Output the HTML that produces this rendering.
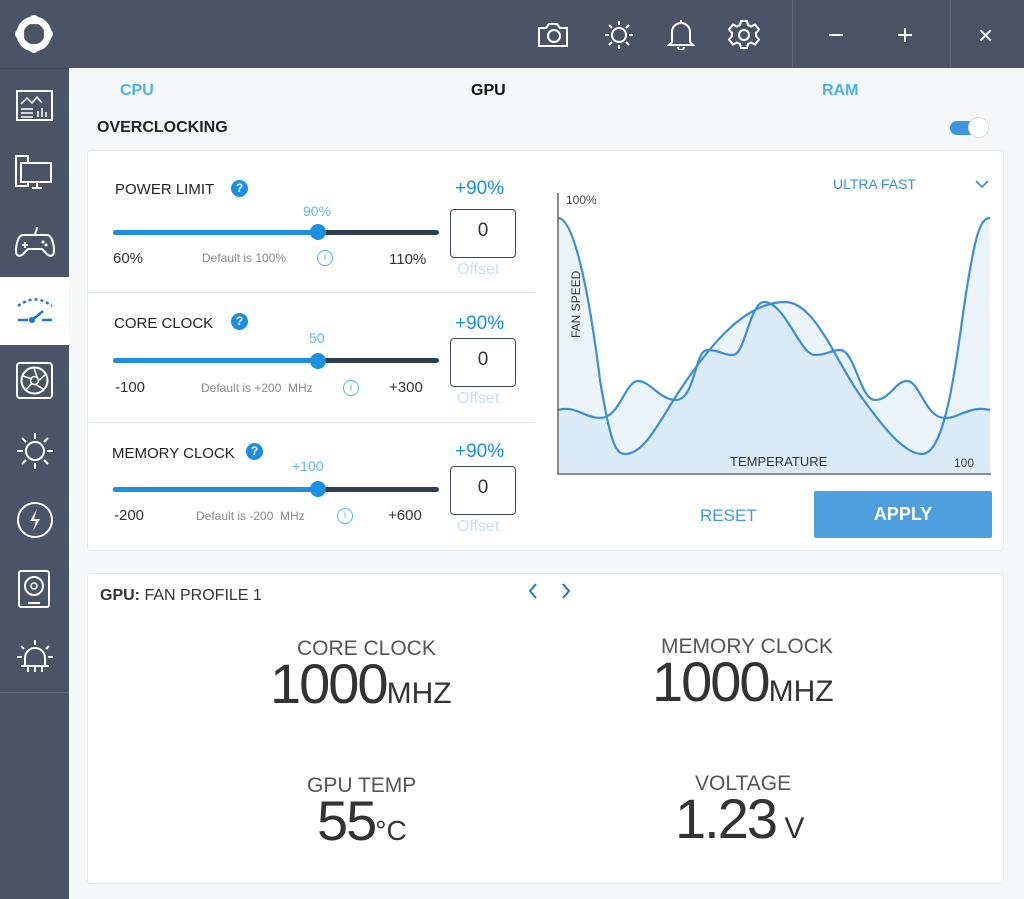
<!DOCTYPE html>
<html><head><meta charset="utf-8"><style>
*{margin:0;padding:0;box-sizing:border-box}
body{width:1024px;height:899px;overflow:hidden;font-family:"Liberation Sans",Arial,sans-serif;background:#f6f7f9;position:relative}
.a{position:absolute}
.side{left:0;top:0;width:69px;height:899px;background:#4a5466}
.top{left:69px;top:0;width:955px;height:68px;background:#4a5466}
.panel{background:#fff;border:1px solid #e6e8ec;border-radius:4px}
.t{position:absolute;white-space:nowrap}
.track{position:absolute;height:5px;border-radius:3px;background:#2f3c52}
.fill{position:absolute;height:5px;border-radius:3px;background:#1b8fe0}
.thumb{position:absolute;width:16px;height:16px;border-radius:50%;background:#1b8fe0}
.box{position:absolute;width:66px;height:49px;border:1.5px solid #3a4456;border-radius:4px;font-size:19px;color:#333;text-align:center;line-height:42px}
.q{position:absolute;width:17px;height:17px;border-radius:50%;background:#1b8fe0;color:#fff;font-size:12px;font-weight:bold;text-align:center;line-height:17px}
.lbl{font-size:15px;color:#222}
.big{font-size:56px;color:#333;letter-spacing:-2px}
</style></head><body>
<div class="a side"></div>
<div class="a top"></div>
<div class="a" style="left:792px;top:0;width:1px;height:68px;background:#5d6778"></div>
<div class="a" style="left:950px;top:0;width:1px;height:68px;background:#5d6778"></div>
<svg class="a" style="left:14px;top:14px" width="40" height="40" viewBox="0 0 40 40"><circle cx="20" cy="20" r="14" fill="none" stroke="#fff" stroke-width="7"/><circle cx="20" cy="6" r="5" fill="#fff"/><circle cx="20" cy="34" r="5" fill="#fff"/><circle cx="6" cy="20" r="5" fill="#fff"/><circle cx="34" cy="20" r="5" fill="#fff"/><circle cx="20" cy="20" r="10" fill="#4a5466"/></svg>
<div class="a" style="left:0;top:68px;width:69px;height:1px;background:#3e4858"></div>
<svg class="a" style="left:16px;top:88px" width="38" height="34"><rect x="1" y="3" width="35" height="29" fill="none" stroke="#fff" stroke-width="2"/><path d="M5 16 l6-6 5 5 5-6 5 6" fill="none" stroke="#fff" stroke-width="1.5"/><path d="M5 21h12M5 25h12M5 29h12M22 29v-6M26 29v-9M30 29v-5" stroke="#fff" stroke-width="1.5"/></svg>
<svg class="a" style="left:15px;top:155px" width="40" height="36"><rect x="1" y="1" width="12" height="30" fill="none" stroke="#fff" stroke-width="2"/><rect x="6" y="8" width="30" height="19" fill="#4a5466" stroke="#fff" stroke-width="2"/><path d="M17 33h10M22 27v5" stroke="#fff" stroke-width="2"/></svg>
<svg class="a" style="left:15px;top:227px" width="40" height="32"><path d="M8 8h24c5 0 7 10 7 16s-5 6-8 2l-4-4h-14l-4 4c-3 4-8 4-8-2s2-16 7-16z" fill="none" stroke="#fff" stroke-width="2"/><path d="M10 15v6M7 18h6M22 0c0 4-2 5-2 8" stroke="#fff" stroke-width="2"/><circle cx="28" cy="15" r="1.5" fill="#fff"/><circle cx="31" cy="18" r="1.5" fill="#fff"/></svg>
<div class="a" style="left:0;top:277px;width:69px;height:68px;background:#fff"></div>
<svg class="a" style="left:15px;top:295px" width="40" height="32"><path d="M3 11 Q20 -2 37 11" fill="none" stroke="#1b78c8" stroke-width="2.5" stroke-dasharray="3 3"/><path d="M3 25h10M27 25h10M16 26l12-10" stroke="#1b78c8" stroke-width="2.5"/><circle cx="17" cy="25" r="3" fill="#1b78c8"/></svg>
<svg class="a" style="left:16px;top:362px" width="38" height="38"><rect x="1" y="1" width="35" height="35" rx="3" fill="none" stroke="#fff" stroke-width="2"/><circle cx="18.5" cy="18.5" r="13" fill="none" stroke="#fff" stroke-width="2"/><circle cx="18.5" cy="18.5" r="4" fill="none" stroke="#fff" stroke-width="1.5"/><path d="M18 6l3 9M29 13l-7 6M27 27l-8-5M10 28l6-7M7 14l9 3" stroke="#fff" stroke-width="1.5"/></svg>
<svg class="a" style="left:15px;top:431px" width="40" height="40"><circle cx="20" cy="20" r="9" fill="none" stroke="#fff" stroke-width="2"/><g stroke="#fff" stroke-width="2"><path d="M20 2v6M20 32v6M2 20h6M32 20h6M7 7l4 4M29 29l4 4M33 7l-4 4M11 29l-4 4"/></g></svg>
<svg class="a" style="left:15px;top:500px" width="40" height="40"><circle cx="20" cy="20" r="17" fill="none" stroke="#fff" stroke-width="2"/><path d="M22 9l-7 12h6l-3 10 7-12h-6z" fill="#fff"/></svg>
<svg class="a" style="left:18px;top:570px" width="34" height="40"><rect x="1" y="1" width="30" height="36" rx="2" fill="none" stroke="#fff" stroke-width="2"/><circle cx="16" cy="16" r="9" fill="none" stroke="#fff" stroke-width="2"/><circle cx="16" cy="16" r="3" fill="none" stroke="#fff" stroke-width="1.5"/><path d="M10 33h12" stroke="#fff" stroke-width="2"/></svg>
<svg class="a" style="left:15px;top:638px" width="40" height="40"><path d="M10 28v-8a10 10 0 0 1 20 0v8z" fill="none" stroke="#fff" stroke-width="2"/><path d="M6 28h28M13 28v6M20 28v6M27 28v6M20 2v5M6 8l3 3M34 8l-3 3M2 19h5M33 19h5" stroke="#fff" stroke-width="2"/></svg>
<div class="a" style="left:0;top:692px;width:69px;height:1px;background:#5d6778"></div>
<svg class="a" style="left:537px;top:22px" width="32" height="26"><path d="M2 6h7l3-4h8l3 4h7v18h-28z" fill="none" stroke="#fff" stroke-width="2"/><circle cx="17" cy="14" r="6" fill="none" stroke="#fff" stroke-width="2"/></svg>
<svg class="a" style="left:604px;top:20px" width="30" height="30"><circle cx="15" cy="15" r="7" fill="none" stroke="#fff" stroke-width="2"/><g stroke="#fff" stroke-width="2"><path d="M15 1v4M15 25v4M1 15h4M25 15h4M5 5l3 3M22 22l3 3M25 5l-3 3M8 22l-3 3"/></g></svg>
<svg class="a" style="left:667px;top:18px" width="28" height="32"><path d="M5 24v-10a9 9 0 0 1 18 0v10l3 3h-24z" fill="none" stroke="#fff" stroke-width="2"/><path d="M11 29a3 3 0 0 0 6 0" fill="none" stroke="#fff" stroke-width="2"/><path d="M14 2v3" stroke="#fff" stroke-width="2"/></svg>
<svg class="a" style="left:728px;top:19px" width="32" height="32" viewBox="0 0 32 32"><path d="M13 2h6l1 4 3 1.5 4-2 4 5-3 3.5v3l3 3.5-4 5-4-2-3 1.5-1 4h-6l-1-4-3-1.5-4 2-4-5 3-3.5v-3l-3-3.5 4-5 4 2 3-1.5z" fill="none" stroke="#fff" stroke-width="2"/><circle cx="16" cy="16" r="5" fill="none" stroke="#fff" stroke-width="2"/></svg>
<div class="a" style="left:829px;top:34px;width:14px;height:2px;background:#fff"></div>
<div class="a" style="left:898px;top:34px;width:14px;height:2px;background:#fff"></div>
<div class="a" style="left:904px;top:28px;width:2px;height:14px;background:#fff"></div>
<div class="t" style="left:978px;top:20px;font-size:26px;color:#fff">×</div>
<div class="t" style="left:120px;top:82px;font-size:16px;color:#4db0ef;font-weight:bold">CPU</div>
<div class="t" style="left:471px;top:82px;font-size:16px;color:#111;font-weight:bold">GPU</div>
<div class="t" style="left:822px;top:82px;font-size:16px;color:#4db0ef;font-weight:bold">RAM</div>
<div class="t" style="left:97px;top:119px;font-size:16px;color:#222;font-weight:bold">OVERCLOCKING</div>
<div class="a" style="left:950px;top:121px;width:36px;height:14px;border-radius:7px;background:#3e96dc"></div>
<div class="a" style="left:968px;top:117px;width:21px;height:21px;border-radius:50%;background:#fff;border:1px solid #ddd"></div>
<div class="a panel" style="left:87px;top:150px;width:917px;height:401px"></div>
<div class="a" style="left:88px;top:292px;width:447px;height:1px;background:#e2e4e8"></div>
<div class="a" style="left:88px;top:422px;width:447px;height:1px;background:#e2e4e8"></div>
<div class="t lbl" style="left:115px;top:181px">POWER LIMIT</div><div class="q" style="left:231px;top:180px">?</div>
<div class="t" style="left:455px;top:178px;font-size:19px;color:#1b8fe0">+90%</div>
<div class="t" style="left:303px;top:203px;font-size:14px;color:#5fb5ee">90%</div>
<div class="track" style="left:113px;top:230px;width:326px"></div><div class="fill" style="left:113px;top:230px;width:205px"></div><div class="thumb" style="left:310px;top:224px"></div>
<div class="t" style="left:113px;top:250px;font-size:15px;color:#333">60%</div>
<div class="t" style="left:202px;top:251px;font-size:12px;color:#888">Default is 100%</div>
<div class="t" style="left:317px;top:250px;width:16px;height:16px;border:1.5px solid #4db0ef;border-radius:50%;font-size:10px;color:#4db0ef;text-align:center;line-height:13px">i</div>
<div class="t" style="left:389px;top:251px;font-size:15px;color:#333">110%</div>
<div class="box" style="left:450px;top:209px">0</div>
<div class="t" style="left:457px;top:261px;font-size:16px;color:#c7dff2">Offset</div>
<div class="t lbl" style="left:114px;top:315px">CORE CLOCK</div><div class="q" style="left:231px;top:313px">?</div>
<div class="t" style="left:455px;top:313px;font-size:19px;color:#1b8fe0">+90%</div>
<div class="t" style="left:309px;top:330px;font-size:14px;color:#5fb5ee">50</div>
<div class="track" style="left:113px;top:358px;width:326px"></div><div class="fill" style="left:113px;top:358px;width:205px"></div><div class="thumb" style="left:310px;top:353px"></div>
<div class="t" style="left:115px;top:379px;font-size:15px;color:#333">-100</div>
<div class="t" style="left:201px;top:381px;font-size:12px;color:#888">Default is +200 &nbsp;MHz</div>
<div class="t" style="left:343px;top:380px;width:16px;height:16px;border:1.5px solid #4db0ef;border-radius:50%;font-size:10px;color:#4db0ef;text-align:center;line-height:13px">i</div>
<div class="t" style="left:389px;top:379px;font-size:15px;color:#333">+300</div>
<div class="box" style="left:450px;top:338px">0</div>
<div class="t" style="left:457px;top:390px;font-size:16px;color:#c7dff2">Offset</div>
<div class="t lbl" style="left:112px;top:445px">MEMORY CLOCK</div><div class="q" style="left:246px;top:443px">?</div>
<div class="t" style="left:455px;top:441px;font-size:19px;color:#1b8fe0">+90%</div>
<div class="t" style="left:292px;top:458px;font-size:14px;color:#5fb5ee">+100</div>
<div class="track" style="left:113px;top:487px;width:326px"></div><div class="fill" style="left:113px;top:487px;width:205px"></div><div class="thumb" style="left:310px;top:481px"></div>
<div class="t" style="left:114px;top:507px;font-size:15px;color:#333">-200</div>
<div class="t" style="left:196px;top:509px;font-size:12px;color:#888">Default is -200 &nbsp;MHz</div>
<div class="t" style="left:337px;top:508px;width:16px;height:16px;border:1.5px solid #4db0ef;border-radius:50%;font-size:10px;color:#4db0ef;text-align:center;line-height:13px">i</div>
<div class="t" style="left:388px;top:507px;font-size:15px;color:#333">+600</div>
<div class="box" style="left:450px;top:466px">0</div>
<div class="t" style="left:457px;top:518px;font-size:16px;color:#c7dff2">Offset</div>
<div class="t" style="left:833px;top:176px;font-size:14px;color:#3a8fd4">ULTRA FAST</div>
<svg class="a" style="left:975px;top:179px" width="14" height="10"><path d="M1 2l6 6 6-6" fill="none" stroke="#3a8fd4" stroke-width="1.8"/></svg>
<svg class="a" style="left:540px;top:180px" width="470" height="300">
<g transform="translate(-540,-180)">
<path d="M558 218 C575 218 590 300 600 380 C610 440 615 454 625 454 C645 454 660 420 680 390 C710 345 745 302 785 302 C815 302 835 360 860 395 C885 430 905 454 922 454 C945 454 955 370 965 300 C975 235 980 218 990 218 L990 473 L558 473Z" fill="rgba(110,170,225,0.13)"/>
<path d="M558 410 C575 405 585 418 600 418 C620 418 625 381 638 381 C650 381 660 400 676 400 C695 400 695 350 707 350 C720 350 722 355 733 355 C745 355 750 302 764 302 C785 302 800 355 815 355 C828 355 830 350 840 350 C855 350 860 400 875 400 C890 400 895 381 907 381 C920 381 925 418 945 418 C960 418 970 405 990 410 L990 473 L558 473Z" fill="rgba(110,170,225,0.13)"/>
<path d="M558 218 C575 218 590 300 600 380 C610 440 615 454 625 454 C645 454 660 420 680 390 C710 345 745 302 785 302 C815 302 835 360 860 395 C885 430 905 454 922 454 C945 454 955 370 965 300 C975 235 980 218 990 218" fill="none" stroke="#3a8fd4" stroke-width="2.2"/>
<path d="M558 410 C575 405 585 418 600 418 C620 418 625 381 638 381 C650 381 660 400 676 400 C695 400 695 350 707 350 C720 350 722 355 733 355 C745 355 750 302 764 302 C785 302 800 355 815 355 C828 355 830 350 840 350 C855 350 860 400 875 400 C890 400 895 381 907 381 C920 381 925 418 945 418 C960 418 970 405 990 410" fill="none" stroke="#3a8fd4" stroke-width="2.2"/>
<path d="M558 193 V474 H991" fill="none" stroke="#666" stroke-width="1.5"/>
<text x="566" y="204" font-size="12" fill="#444" font-family="Liberation Sans">100%</text>
<text x="954" y="467" font-size="12" fill="#444" font-family="Liberation Sans">100</text>
<text x="730" y="466" font-size="13" fill="#333" font-family="Liberation Sans">TEMPERATURE</text>
<text x="0" y="0" font-size="12" fill="#333" font-family="Liberation Sans" transform="translate(580,338) rotate(-90)">FAN SPEED</text>
</g></svg>
<div class="t" style="left:700px;top:506px;font-size:17px;color:#3a9ae0">RESET</div>
<div class="a" style="left:814px;top:491px;width:178px;height:47px;background:#4f9fdf;border-radius:2px;color:#fff;font-size:18px;font-weight:bold;text-align:center;line-height:47px">APPLY</div>
<div class="a panel" style="left:87px;top:573px;width:917px;height:311px"></div>
<div class="t" style="left:100px;top:587px;font-size:16px;color:#333"><b>GPU:</b> FAN PROFILE 1</div>
<svg class="a" style="left:526px;top:582px" width="50" height="18"><path d="M10 2l-6 7 6 7M37 2l6 7-6 7" fill="none" stroke="#1b78c8" stroke-width="2"/></svg>
<div class="t" style="left:297px;top:637px;font-size:21px;color:#555">CORE CLOCK</div>
<div class="t big" style="left:270px;top:651px">1000<span style="font-size:30px;letter-spacing:0">MHZ</span></div>
<div class="t" style="left:661px;top:635px;font-size:21px;color:#555">MEMORY CLOCK</div>
<div class="t big" style="left:652px;top:649px">1000<span style="font-size:30px;letter-spacing:0">MHZ</span></div>
<div class="t" style="left:307px;top:774px;font-size:21px;color:#555">GPU TEMP</div>
<div class="t big" style="left:317px;top:788px">55<span style="font-size:28px;letter-spacing:0">°C</span></div>
<div class="t" style="left:695px;top:772px;font-size:21px;color:#555">VOLTAGE</div>
<div class="t big" style="left:675px;top:786px">1.23<span style="font-size:30px;letter-spacing:0"> V</span></div>
</body></html>
